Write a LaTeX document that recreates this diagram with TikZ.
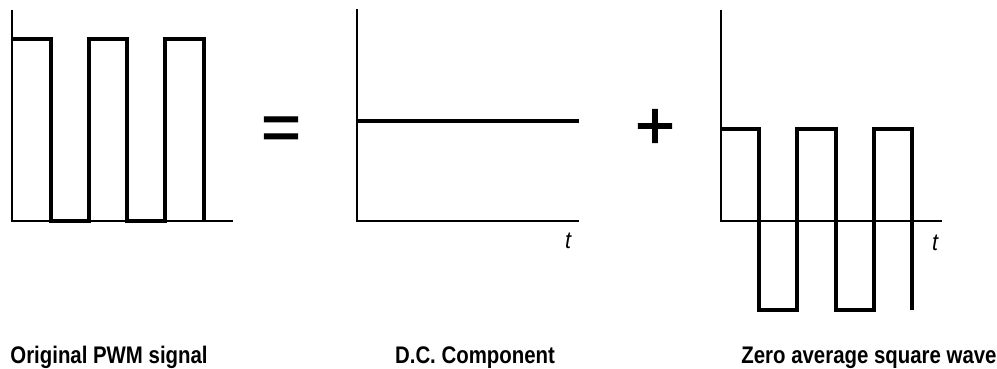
\documentclass[tikz,border=0pt]{standalone}
\usepackage{fontspec}
\setmainfont{Liberation Sans}
\newfontfamily\zeichenfont[FakeBold=1.6]{Liberation Sans}
\usetikzlibrary{positioning}
\tikzset{
  achse/.style={black,line width=1.6pt},
  signal/.style={black,line width=3.8pt,line join=miter},
  titel/.style={font=\bfseries\fontsize{24}{28}\selectfont,xscale=0.85,anchor=base,inner sep=0pt},
  zeichen/.style={font=\zeichenfont\fontsize{68}{70}\selectfont,inner sep=0pt},
  zeit/.style={font=\itshape\fontsize{24}{28}\selectfont,xscale=0.9,inner sep=0pt},
}

\begin{document}
\begin{tikzpicture}[x=1pt,y=1pt]
  \useasboundingbox (0,0) rectangle (997,369);
  % original PWM signal
  \begin{scope}[shift={(12,148)}]
    \draw[signal] (0,182)--(39,182)--(39,0)--(77,0)--(77,182)--(115,182)--(115,0)--(153,0)--(153,182)--(192,182)--(192,0);
    \draw[achse] (0,211)--(0,0)--(221,0);
  \end{scope}
  \node[zeichen] (gleich) at (281,235.5) {=};
  % D.C. component
  \begin{scope}[shift={(357,148)}]
    \draw[signal] (0,100)--(222,100);
    \draw[achse] (0,212)--(0,0)--(222,0);
    \node[zeit] (t1) at (211,-20) {t};
  \end{scope}
  \node[zeichen] (plus) at (655,240) {+};
  % zero average square wave
  \begin{scope}[shift={(721,148)}]
    \draw[signal] (0,92)--(38,92)--(38,-89)--(76,-89)--(76,92)--(115,92)--(115,-89)--(153,-89)--(153,92)--(191,92)--(191,-89);
    \draw[achse] (0,211)--(0,0)--(221,0);
    \node[zeit] (t2) at (214,-22) {t};
  \end{scope}
  \node[titel] (orig) at (109,5) {Original PWM signal};
  \node[titel] (dc) at (475,5) {D.C. Component};
  \node[titel] (null) at (869,5) {Zero average square wave};
\end{tikzpicture}
\end{document}
